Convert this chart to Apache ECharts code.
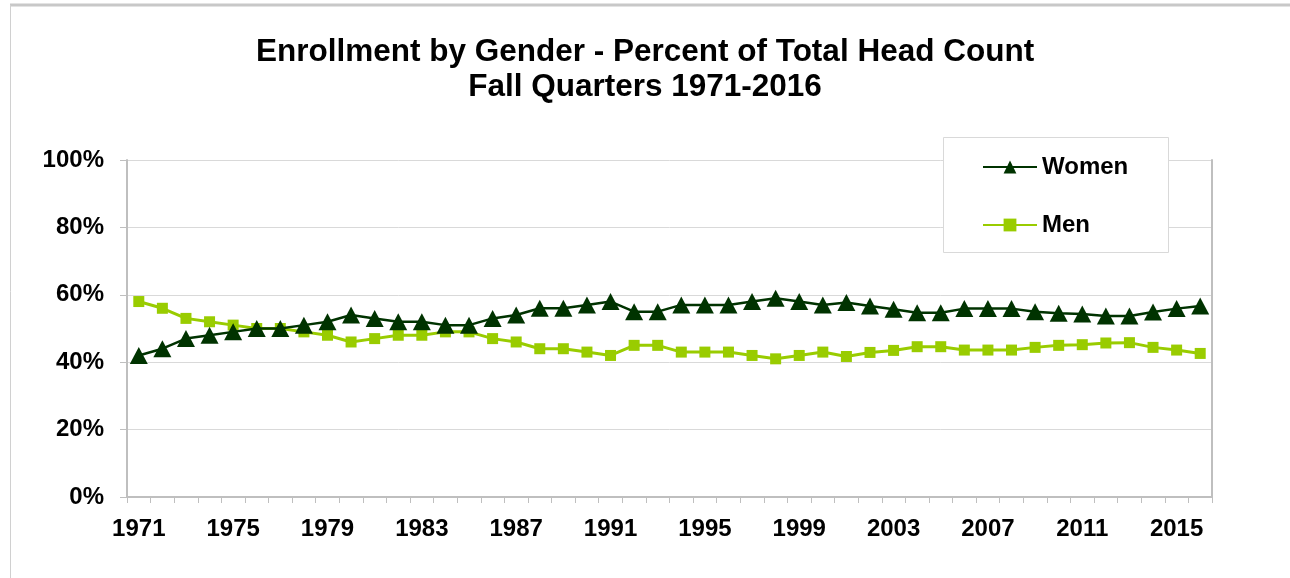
<!DOCTYPE html>
<html>
<head>
<meta charset="utf-8">
<script src="https://cdn.jsdelivr.net/npm/echarts@6/dist/echarts.min.js"></script>
<style>
html,body{margin:0;padding:0;background:#fff;}
#chart{width:1290px;height:578px;}
</style>
</head>
<body>
<div id="chart"></div>
<script>
var years = ['1971','1972','1973','1974','1975','1976','1977','1978','1979','1980',
             '1981','1982','1983','1984','1985','1986','1987','1988','1989','1990',
             '1991','1992','1993','1994','1995','1996','1997','1998','1999','2000',
             '2001','2002','2003','2004','2005','2006','2007','2008','2009','2010',
             '2011','2012','2013','2014','2015','2016'];
var women = [42,44,47,48,49,50,50,51,52,54,
             53,52,52,51,51,53,54,56,56,57,
             58,55,55,57,57,57,58,59,58,57,
             57.7,56.7,55.7,54.7,54.7,55.9,55.9,55.9,55.0,54.5,
             54.3,53.7,53.7,54.9,55.9,56.7];
var men = [58,56,53,52,51,50,50,49,48,46,
           47,48,48,49,49,47,46,44,44,43,
           42,45,45,43,43,43,42,41,42,43,
           41.7,42.9,43.5,44.6,44.6,43.6,43.6,43.6,44.4,45.0,
           45.2,45.7,45.8,44.4,43.6,42.6];
var yTicks = [0,20,40,60,80,100];
var titleLines = ['Enrollment by Gender - Percent of Total Head Count','Fall Quarters 1971-2016'];

var FONT = '"Liberation Sans", Arial, Helvetica, sans-serif';
var chart = echarts.init(document.getElementById('chart'), null, {renderer:'canvas'});
chart.setOption({
  animation: false,
  backgroundColor: '#ffffff',
  title: {
    text: titleLines.join('\n'),
    left: 'center',
    top: 35,
    padding: 0,
    textStyle: {fontFamily: FONT, fontWeight: 'bold', fontSize: 31.5, lineHeight: 35, color: '#000'}
  },
  graphic: [
    {type:'line', shape:{x1:10, y1:5, x2:1290, y2:5}, style:{stroke:'#c8c8c8', lineWidth:3}, z:1},
    {type:'line', shape:{x1:10.5, y1:5, x2:10.5, y2:578}, style:{stroke:'#d0d0d0', lineWidth:1}, z:1},
    {type:'rect', shape:{x:943.5, y:137.5, width:225, height:115}, style:{fill:'#ffffff', stroke:'#d9d9d9', lineWidth:1}, z:50}
  ],
  legend: {
    orient: 'vertical',
    left: 982,
    top: 155,
    padding: 0,
    z: 60,
    itemWidth: 54,
    itemHeight: 16,
    itemGap: 34,
    textStyle: {fontFamily: FONT, fontWeight: 'bold', fontSize: 24, color: '#000'},
    data: ['Women','Men']
  },
  grid: {left: 127, right: 78, top: 160, bottom: 81, containLabel: false},
  xAxis: {
    type: 'category',
    data: years,
    boundaryGap: true,
    axisLine: {show: true, lineStyle: {color: '#bfbfbf', width: 2}},
    axisTick: {show: true, interval: 0, length: 6, lineStyle: {color: '#bfbfbf', width: 1}},
    axisLabel: {interval: 3, margin: 20, fontFamily: FONT, fontWeight: 'bold', fontSize: 24, color: '#000'},
    splitLine: {show: false}
  },
  yAxis: [{
    type: 'value',
    min: yTicks[0],
    max: yTicks[yTicks.length-1],
    interval: 20,
    axisLine: {show: true, lineStyle: {color: '#bfbfbf', width: 2}},
    axisTick: {show: true, length: 7, lineStyle: {color: '#bfbfbf', width: 1}},
    axisLabel: {margin: 23, formatter: '{value}%', fontFamily: FONT, fontWeight: 'bold', fontSize: 24, color: '#000'},
    splitLine: {show: true, lineStyle: {color: '#d9d9d9', width: 1}}
  },{
    type: 'value',
    position: 'right',
    min: yTicks[0],
    max: yTicks[yTicks.length-1],
    interval: 20,
    axisLine: {show: true, lineStyle: {color: '#bfbfbf', width: 2}},
    axisTick: {show: false},
    axisLabel: {show: false},
    splitLine: {show: false}
  }],
  series: [{
    name: 'Women',
    type: 'line',
    data: women,
    symbol: 'triangle',
    symbolSize: [18, 17],
    showSymbol: true,
    showAllSymbol: true,
    lineStyle: {color: '#003300', width: 2.5},
    itemStyle: {color: '#003300'},
    z: 3
  },{
    name: 'Men',
    type: 'line',
    data: men,
    symbol: 'rect',
    symbolSize: 11,
    showSymbol: true,
    showAllSymbol: true,
    lineStyle: {color: '#99cc00', width: 3},
    itemStyle: {color: '#99cc00'},
    z: 2
  }]
});
</script>
</body>
</html>
